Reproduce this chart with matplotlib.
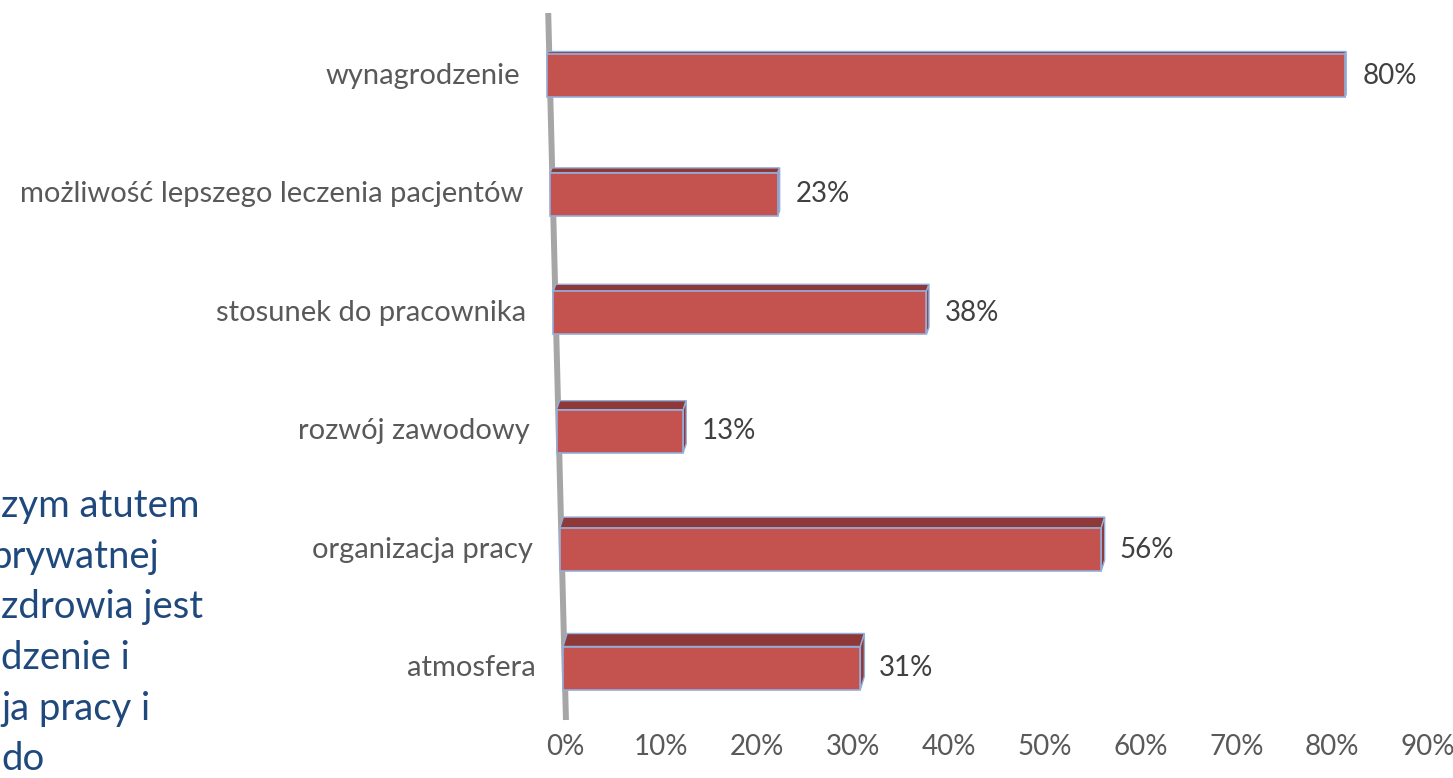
import matplotlib
matplotlib.use("Agg")
import matplotlib.pyplot as plt
from matplotlib.patches import Polygon

# data (top row first)
categories = ["wynagrodzenie", "możliwość lepszego leczenia pacjentów", "stosunek do pracownika",
              "rozwój zawodowy", "organizacja pracy", "atmosfera"]
values = [80, 23, 38, 13, 56, 31]
tick_vals = [0, 10, 20, 30, 40, 50, 60, 70, 80, 90]
tick_labels = [f"{t}%" for t in tick_vals]
note_lines = ["zym atutem", "prywatnej", "zdrowia jest", "dzenie i", "ja pracy i", "do"]

FRONT, TOP, EDGE, WALL = "#C4524F", "#8E3937", "#93AEDB", "#A6A6A6"
GREY, DARK, BLUE = "#595959", "#404040", "#1F497D"
FONT = "Lato"

W, H = 1453, 778
PX_X = 9.59      # pixels per percent
PX_Y = 118.4     # pixels per row
fig = plt.figure(figsize=(W / 100, H / 100), dpi=100)
x0, x1 = -2.5, 92
top_px, bot_px = 10, 730
ax = fig.add_axes([(565 + x0 * PX_X) / W, 1 - bot_px / H, (x1 - x0) * PX_X / W, (bot_px - top_px) / H])
ax.set_xlim(x0, x1)
ax.set_ylim((bot_px - 76) / PX_Y, (top_px - 76) / PX_Y)
for s in ax.spines.values():
    s.set_visible(False)
ax.set_yticks([])
ax.set_xticks(tick_vals)
ax.set_xticklabels(tick_labels, fontsize=20, color=GREY, family=FONT)
ax.tick_params(axis="x", length=0, pad=3)

# slanted wall (perspective)
ax.plot([-1.75, 0.1], [(13 - 76) / PX_Y, (720 - 76) / PX_Y], color=WALL, lw=4.3,
        solid_capstyle="butt", zorder=1)

hgt = 43 / PX_Y
for i, (cat, v) in enumerate(zip(categories, values)):
    left = -1.9 + 0.34 * i
    persp = 1.04 - 0.008 * i
    width = v * persp
    right = left + width
    depth = (3 + 2 * i) / PX_Y
    sh = (1.5 + 0.5 * i) / PX_X
    yt, yb = i - hgt / 2, i + hgt / 2
    ax.barh(i, width, left=left, height=hgt, color=FRONT, edgecolor=EDGE, lw=1.2, zorder=3)
    ax.add_patch(Polygon([(left, yt), (left + sh, yt - depth), (right + sh, yt - depth), (right, yt)],
                         closed=True, facecolor=TOP, edgecolor=EDGE, lw=1.0, zorder=2))
    ax.add_patch(Polygon([(right, yt), (right + sh, yt - depth), (right + sh, yb - depth), (right, yb)],
                         closed=True, facecolor=TOP, edgecolor=EDGE, lw=1.0, zorder=2))
    ax.text(left - 2.8, i, cat, ha="right", va="center", fontsize=21, color=GREY, family=FONT)
    ax.text(right + 1.9, i, f"{v}%", ha="left", va="center", fontsize=20, color=DARK, family=FONT)

# cut-off note on the left (the text box starts outside the picture)
for k, line in enumerate(note_lines):
    xo = -10 if line.startswith("p") else 1
    fig.text(xo / W, 1 - (517 + 50.7 * k) / H, line, ha="left", va="baseline",
             fontsize=27.5, color=BLUE, family=FONT)

fig.savefig("out.png", dpi=100)
